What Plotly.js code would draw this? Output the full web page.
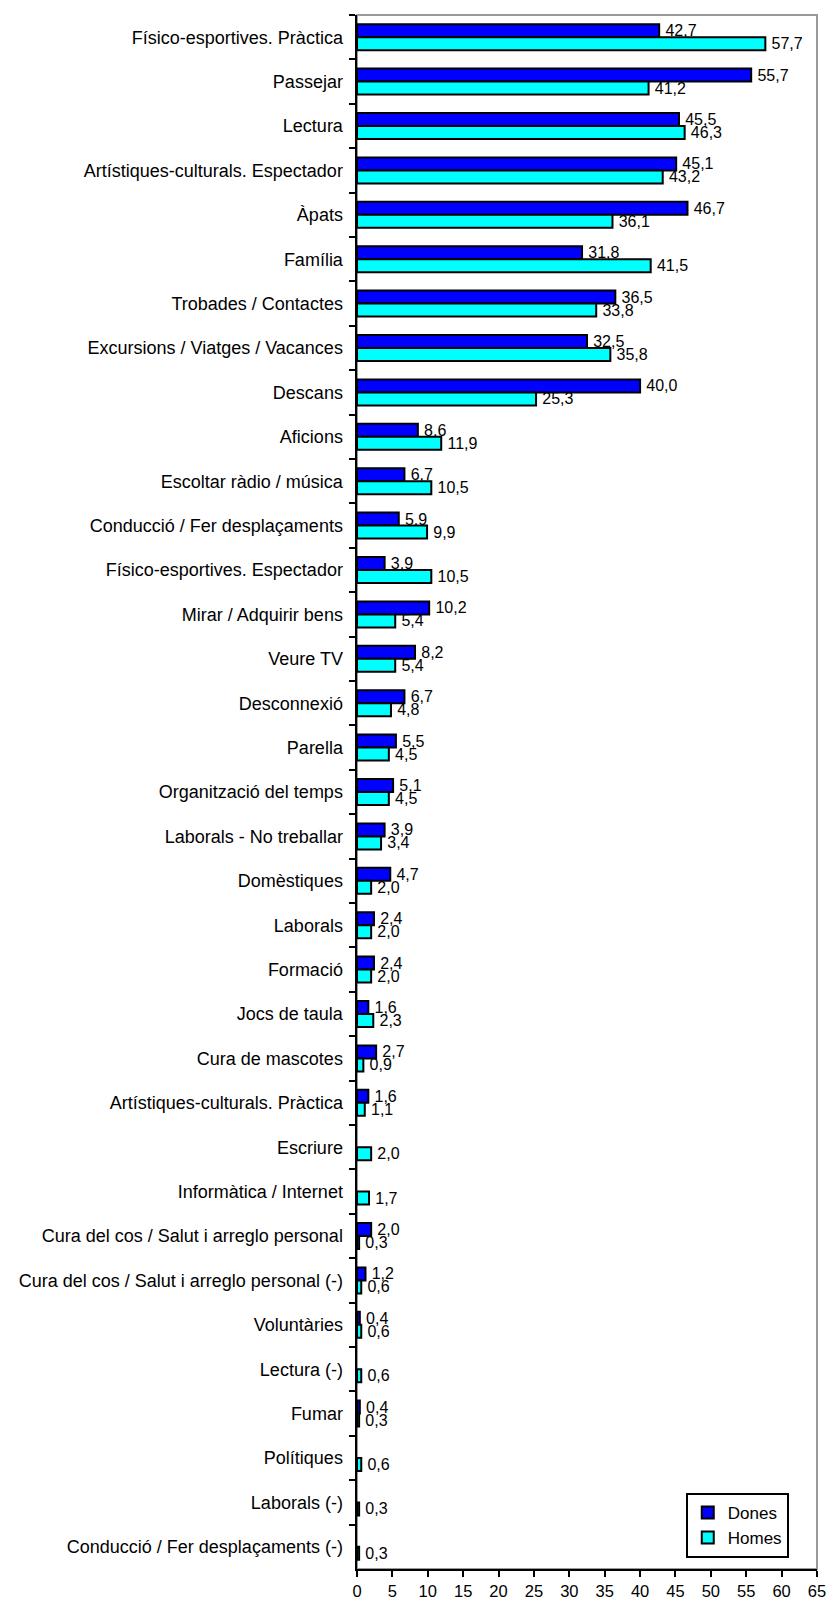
<!DOCTYPE html>
<html>
<head>
<meta charset="utf-8">
<script src="https://cdn.plot.ly/plotly-3.0.1.min.js"></script>
<style>
html,body{margin:0;padding:0;background:#fff;}
#chart{width:827px;height:1601px;}
</style>
</head>
<body>
<div id="chart"></div>
<script>
const categories = [
  "Físico-esportives. Pràctica",
  "Passejar",
  "Lectura",
  "Artístiques-culturals. Espectador",
  "Àpats",
  "Família",
  "Trobades / Contactes",
  "Excursions / Viatges / Vacances",
  "Descans",
  "Aficions",
  "Escoltar ràdio / música",
  "Conducció / Fer desplaçaments",
  "Físico-esportives. Espectador",
  "Mirar / Adquirir bens",
  "Veure TV",
  "Desconnexió",
  "Parella",
  "Organització del temps",
  "Laborals - No treballar",
  "Domèstiques",
  "Laborals",
  "Formació",
  "Jocs de taula",
  "Cura de mascotes",
  "Artístiques-culturals. Pràctica",
  "Escriure",
  "Informàtica / Internet",
  "Cura del cos / Salut i arreglo personal",
  "Cura del cos / Salut i arreglo personal (-)",
  "Voluntàries",
  "Lectura (-)",
  "Fumar",
  "Polítiques",
  "Laborals (-)",
  "Conducció / Fer desplaçaments (-)"
];
const dones = [42.7, 55.7, 45.5, 45.1, 46.7, 31.8, 36.5, 32.5, 40.0, 8.6,
  6.7, 5.9, 3.9, 10.2, 8.2, 6.7, 5.5, 5.1, 3.9, 4.7,
  2.4, 2.4, 1.6, 2.7, 1.6, null, null, 2.0, 1.2, 0.4,
  null, 0.4, null, null, null];
const homes = [57.7, 41.2, 46.3, 43.2, 36.1, 41.5, 33.8, 35.8, 25.3, 11.9,
  10.5, 9.9, 10.5, 5.4, 5.4, 4.8, 4.5, 4.5, 3.4, 2.0,
  2.0, 2.0, 2.3, 0.9, 1.1, 2.0, 1.7, 0.3, 0.6, 0.6,
  0.6, 0.3, 0.6, 0.3, 0.3];
const xTicks = [0,5,10,15,20,25,30,35,40,45,50,55,60,65];

const FONT = "Liberation Sans, Arial, sans-serif";

function mk(name, vals, color) {
  return {
    type: "bar",
    orientation: "h",
    name: name,
    y: categories,
    x: vals,
    marker: {color: color, line: {color: "#000", width: 2}},
    text: vals.map(v => v == null ? "" : "\u2009" + v.toFixed(1).replace(".", ",")),
    textposition: "outside",
    constraintext: "none",
    cliponaxis: false,
    textfont: {family: FONT, size: 16, color: "#000"},
    hoverinfo: "skip"
  };
}

const data = [mk("Dones", dones, "#0000FF"), mk("Homes", homes, "#00FFFF")];

const layout = {
  width: 827,
  height: 1601,
  margin: {l: 357, r: 10, t: 15, b: 32, pad: 0},
  paper_bgcolor: "#fff",
  plot_bgcolor: "#fff",
  barmode: "group",
  bargap: 0.414,
  bargroupgap: 0,
  separators: ", ",
  font: {family: FONT, color: "#000"},
  showlegend: true,
  legend: {
    x: 0.9386, y: 0.0071, xanchor: "right", yanchor: "bottom",
    bgcolor: "#fff", bordercolor: "#000", borderwidth: 2,
    font: {family: FONT, size: 17, color: "#000"},
    itemwidth: 30,
    traceorder: "normal", itemclick: false
  },
  xaxis: {
    range: [0, 65],
    tickmode: "array",
    tickvals: xTicks,
    ticktext: xTicks.map(String),
    showgrid: false,
    zeroline: false,
    showline: true,
    linecolor: "#000",
    linewidth: 2,
    ticks: "outside",
    ticklen: 6,
    tickwidth: 2,
    tickcolor: "#000",
    tickfont: {family: FONT, size: 16.5, color: "#000"},
    fixedrange: true
  },
  yaxis: {
    type: "category",
    range: [34.5, -0.5],
    tickson: "boundaries",
    showgrid: false,
    zeroline: false,
    showline: true,
    linecolor: "#000",
    linewidth: 2.5,
    ticks: "outside",
    ticklen: 6,
    tickwidth: 2,
    tickcolor: "#000",
    ticklabelstandoff: 8,
    tickfont: {family: FONT, size: 18, color: "#000"},
    fixedrange: true
  },
  shapes: [{
    type: "rect", xref: "paper", yref: "paper",
    x0: 0, x1: 1, y0: 0, y1: 1,
    line: {color: "#999", width: 2},
    layer: "below"
  }]
};

Plotly.newPlot("chart", data, layout, {displayModeBar: false, staticPlot: true});
</script>
</body>
</html>
